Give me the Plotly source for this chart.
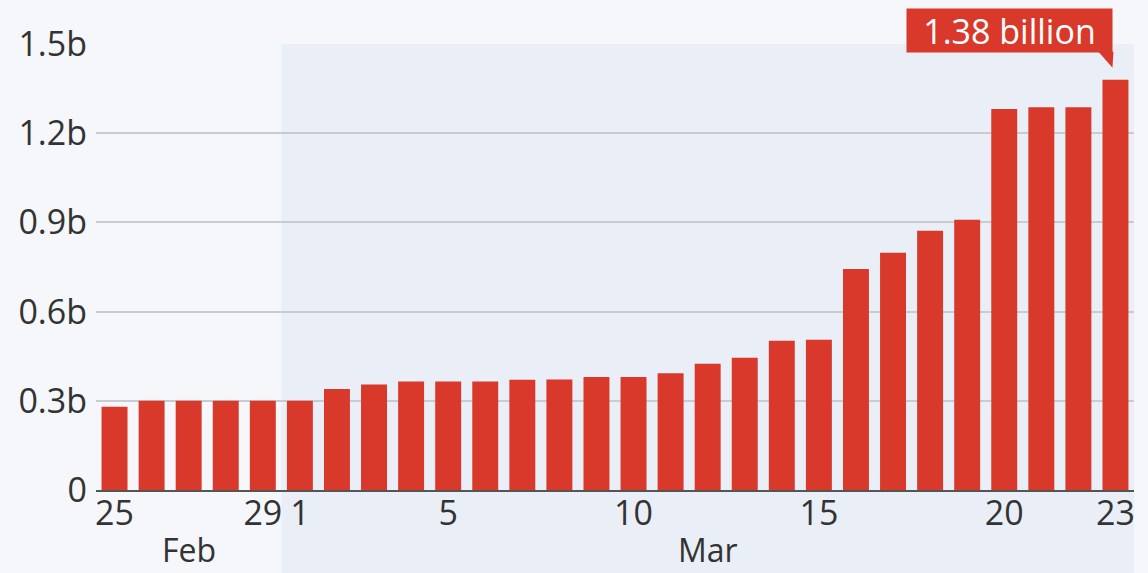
import plotly.graph_objects as go

# Daily totals (billions), 25 Feb – 23 Mar
days = ["25", "26", "27", "28", "29",
        "1", "2", "3", "4", "5", "6", "7", "8", "9", "10", "11", "12",
        "13", "14", "15", "16", "17", "18", "19", "20", "21", "22", "23"]
months = ["Feb"] * 5 + ["Mar"] * 23
values = [0.28, 0.30, 0.30, 0.30, 0.30,
          0.30, 0.34, 0.355, 0.365, 0.365, 0.365, 0.371, 0.372, 0.38, 0.38,
          0.393, 0.425, 0.445, 0.502, 0.505, 0.743, 0.798, 0.872, 0.909,
          1.281, 1.287, 1.287, 1.38]

shown_days = ["25", "29", "1", "5", "10", "15", "20", "23"]
y_ticks = [0, 0.3, 0.6, 0.9, 1.2, 1.5]
y_tick_text = ["0", "0.3b", "0.6b", "0.9b", "1.2b", "1.5b"]

RED = "#d8392b"
TEXT = "#333333"
FONT = "Open Sans"
SIZE = 34

x = list(range(len(values)))
fig = go.Figure(go.Bar(x=x, y=values, marker=dict(color=RED, line=dict(width=0)),
                       hoverinfo="skip"))

# x tick positions come from the day labels
tick_pos = []
for i, d in enumerate(days):
    if d in shown_days and i not in tick_pos:
        tick_pos.append(i)
tick_text = [days[i] for i in tick_pos]

# shaded band behind March
mar_idx = [i for i, m in enumerate(months) if m == "Mar"]
feb_idx = [i for i, m in enumerate(months) if m == "Feb"]
fig.add_shape(type="rect", xref="x", yref="paper",
              x0=mar_idx[0] - 0.5, x1=mar_idx[-1] + 0.5, y0=-0.3, y1=1,
              fillcolor="#e9eef7", line=dict(width=0), layer="below")

# month labels under the day ticks
for idx, name in ((feb_idx, "Feb"), (mar_idx, "Mar")):
    fig.add_annotation(x=(idx[0] + idx[-1]) / 2, y=0, xref="x", yref="paper",
                       yanchor="bottom", yshift=-83, text=name, showarrow=False,
                       font=dict(family=FONT, size=32, color=TEXT))

# callout on the last bar
last = len(values) - 1
fig.add_annotation(x=last, y=values[last], xref="x", yref="y",
                   xanchor="right", yanchor="bottom", xshift=-2, yshift=27,
                   text=f"{values[last]:.2f} billion", showarrow=False,
                   bgcolor=RED, borderpad=1, width=203, height=41,
                   font=dict(family=FONT, size=SIZE, color="white"))
fig.add_shape(type="path", xref="x", yref="y",
              xsizemode="pixel", ysizemode="pixel",
              xanchor=last, yanchor=values[last],
              path="M -17 28 L -2 28 L -3 12 Z",
              fillcolor=RED, line=dict(width=0))

fig.update_layout(
    width=1148, height=573,
    margin=dict(l=96, r=14, t=44, b=83),
    paper_bgcolor="#f5f7fa", plot_bgcolor="rgba(0,0,0,0)",
    bargap=0.3, showlegend=False,
    font=dict(family=FONT, color=TEXT),
)
fig.update_xaxes(range=[-0.5, len(values) - 0.5], tickvals=tick_pos, ticktext=tick_text,
                 tickfont=dict(family=FONT, size=SIZE, color=TEXT),
                 showgrid=False, showline=True, linecolor="#555555", linewidth=1.5,
                 ticks="", ticklabelstandoff=-8, zeroline=False)
fig.update_yaxes(range=[0, 1.5], tickvals=y_ticks, ticktext=y_tick_text,
                 tickfont=dict(family=FONT, size=SIZE, color=TEXT),
                 showgrid=True, gridcolor="#c8ccd2", gridwidth=1.5,
                 zeroline=False, ticks="", ticklabelstandoff=8)

fig.write_html("out.html")
